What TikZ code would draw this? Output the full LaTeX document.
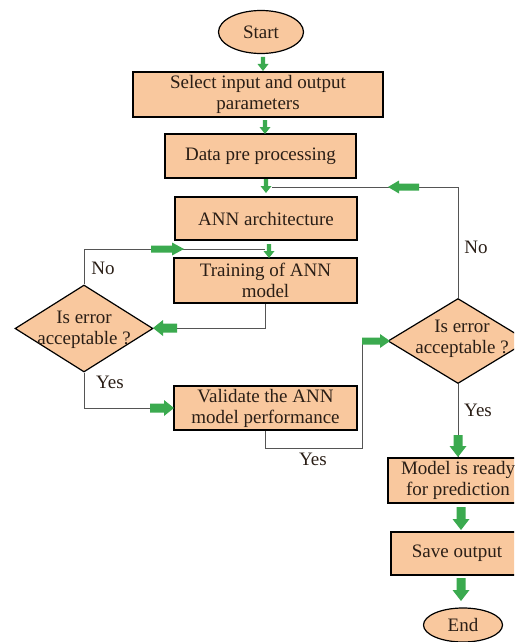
\documentclass[tikz,border=0pt]{standalone}
\usepackage{fontspec}
\setmainfont{Liberation Serif}
\usetikzlibrary{shapes.geometric}
\definecolor{boxfill}{HTML}{F9C89E}
\definecolor{garrowc}{HTML}{3BAA4F}
\definecolor{linec}{HTML}{555555}
\definecolor{txtc}{HTML}{2A1E16}
\newcommand{\garrow}[7]{\begin{scope}[shift={(#1,#2)},rotate=#3]\fill[garrowc] (0,0) -- (-#7,#6) -- (-#7,#5) -- (-#4,#5) -- (-#4,-#5) -- (-#7,-#5) -- (-#7,-#6) -- cycle;\end{scope}}
\begin{document}
\begin{tikzpicture}[x=1pt,y=-1pt,
  every node/.style={font=\fontsize{19}{21}\selectfont, text=txtc},
  procbox/.style={draw=black, line width=1.2pt, fill=boxfill, rectangle, inner sep=0pt, align=center},
  termin/.style={draw=black, line width=1.2pt, fill=boxfill, ellipse, inner sep=0pt},
  decis/.style={draw=black, line width=1.2pt, fill=boxfill, diamond, inner sep=0pt},
  conn/.style={draw=linec, line width=0.8pt},
  lbl/.style={inner sep=0pt}]
\useasboundingbox (0,0) rectangle (514,642);
\clip (0,0) rectangle (514,642);
\fill[white] (0,0) rectangle (514,642);

% nodes
\node[termin, minimum width=85pt, minimum height=43pt] (start) at (261,32) {Start};
\node[procbox, minimum width=250pt, minimum height=45pt] (select) at (258,94.5) {Select input and output\\parameters};
\node[procbox, minimum width=191pt, minimum height=44pt] (data) at (260.5,156) {Data pre processing};
\node[procbox, minimum width=182pt, minimum height=43pt] (ann) at (266,218.5) {ANN architecture};
\node[procbox, minimum width=183pt, minimum height=45pt] (train) at (265.5,280.5) {Training of ANN\\model};
\node[decis, minimum width=138pt, minimum height=87pt] (d1) at (84,328.5) {};
\node[align=center, inner sep=0pt] (d1t) at (84,330) {Is error\\acceptable ?};
\node[procbox, minimum width=183pt, minimum height=44pt] (valid) at (265.5,408) {Validate the ANN\\model performance};
\node[decis, minimum width=140pt, minimum height=85pt] (d2) at (458,341) {};
\node[align=center, inner sep=0pt] (d2t) at (462,339) {Is error\\acceptable ?};
\node[procbox, minimum width=140pt, minimum height=45pt] (model) at (458,480.5) {Model is ready\\for prediction};
\node[procbox, minimum width=132pt, minimum height=43pt] (save) at (457,553.5) {Save output};
\node[termin, minimum width=79pt, minimum height=34pt] (end) at (463,625) {End};

% coordinates for connector ends
\coordinate (ctop) at (272,187);
\coordinate (cmid) at (265,249);
\coordinate (vturn) at (362,448);

% connectors
\draw[conn] (d2.north) |- (ctop);
\draw[conn] (d1.north) |- (cmid);
\draw[conn] (train.south) |- (d1.east);
\draw[conn] (d1.south) |- (valid.west);
\draw[conn] (valid.south) |- (vturn) |- (d2.west);
\draw[conn] (d2.south) -- (model.north);

% labels
\node[lbl] (no1) at (103,268) {No};
\node[lbl] (yes1) at (110,382) {Yes};
\node[lbl] (yes2) at (313,459) {Yes};
\node[lbl] (no2) at (476,247) {No};
\node[lbl] (yes3) at (478,410) {Yes};

% small green arrows (tip x, tip y, angle, length, shaft half, head half, head length)
\garrow{263}{71}{-90}{14}{2.2}{5.5}{7}
\garrow{265}{134}{-90}{14}{2.2}{5.5}{7}
\garrow{266}{193}{-90}{14}{2.2}{5.5}{7}
\garrow{269}{258}{-90}{14}{2.2}{5.5}{7}
% big green arrows
\garrow{388}{187}{180}{31}{3.5}{6.5}{11}
\garrow{184}{249}{0}{33}{3.5}{6.5}{12}
\garrow{153}{328}{180}{24}{4.5}{8}{10}
\garrow{174}{408}{0}{24}{4.5}{8}{10}
\garrow{390}{341}{0}{28}{3.5}{7}{10}
\garrow{458}{457}{-90}{22}{4.5}{8.5}{11}
\garrow{461}{530}{-90}{23}{4.5}{8.5}{11}
\garrow{461}{601}{-90}{23}{4.5}{8.5}{11}
\end{tikzpicture}
\end{document}
